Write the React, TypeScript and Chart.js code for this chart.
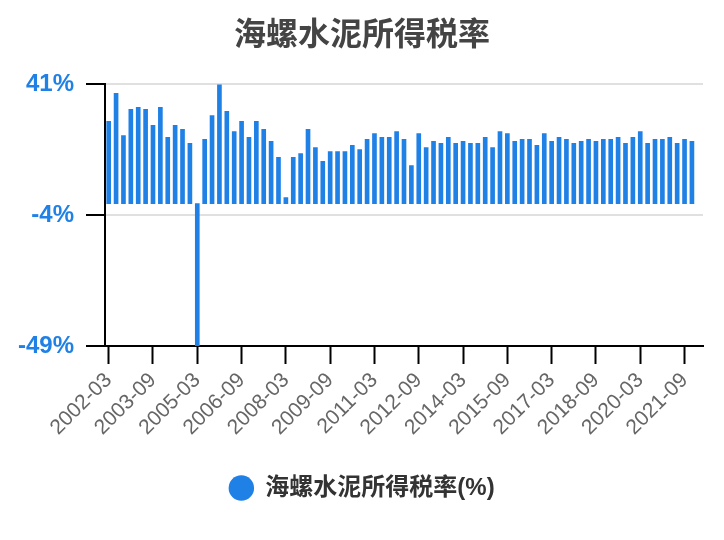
import React, { useEffect, useRef } from "react";
import { Chart, registerables } from "chart.js";

Chart.register(...registerables);

const TITLE = "海螺水泥所得税率";
const SERIES_NAME = "海螺水泥所得税率(%)";

const CATEGORIES = [
  "2002-03", "2002-06", "2002-09", "2002-12",
  "2003-03", "2003-06", "2003-09", "2003-12",
  "2004-03", "2004-06", "2004-09", "2004-12",
  "2005-03", "2005-06", "2005-09", "2005-12",
  "2006-03", "2006-06", "2006-09", "2006-12",
  "2007-03", "2007-06", "2007-09", "2007-12",
  "2008-03", "2008-06", "2008-09", "2008-12",
  "2009-03", "2009-06", "2009-09", "2009-12",
  "2010-03", "2010-06", "2010-09", "2010-12",
  "2011-03", "2011-06", "2011-09", "2011-12",
  "2012-03", "2012-06", "2012-09", "2012-12",
  "2013-03", "2013-06", "2013-09", "2013-12",
  "2014-03", "2014-06", "2014-09", "2014-12",
  "2015-03", "2015-06", "2015-09", "2015-12",
  "2016-03", "2016-06", "2016-09", "2016-12",
  "2017-03", "2017-06", "2017-09", "2017-12",
  "2018-03", "2018-06", "2018-09", "2018-12",
  "2019-03", "2019-06", "2019-09", "2019-12",
  "2020-03", "2020-06", "2020-09", "2020-12",
  "2021-03", "2021-06", "2021-09", "2021-12",
  "2022-03",
];

const TAX_RATE: (number | null)[] = [
  28.3, 37.9, 23.4, 32.4,
  33.1, 32.4, 26.9, 33.1,
  22.8, 26.9, 25.5, 20.7,
  -49, 22.1, 30.3, 41,
  31.7, 24.8, 28.3, 22.8,
  28.3, 25.5, 21.4, 15.9,
  2.1, 15.9, 17.2, 25.5,
  19.3, 14.5, 17.9, 17.9,
  17.9, 20.0, 18.6, 22.1,
  24.1, 22.8, 22.8, 24.8,
  22.1, 13.1, 24.1, 19.3,
  21.4, 20.7, 22.8, 20.7,
  21.4, 20.7, 20.7, 22.8,
  19.3, 24.8, 24.1, 21.4,
  22.1, 22.1, 20.0, 24.1,
  21.4, 22.8, 22.1, 20.7,
  21.4, 22.1, 21.4, 22.1,
  22.1, 22.8, 20.7, 22.8,
  24.8, 20.7, 22.1, 22.1,
  22.8, 20.7, 22.1, 21.4,
  null,
];

const Y_TICKS = [-49, -4, 41];
const Y_MIN = -49;
const Y_MAX = 41;
const X_LABEL_STEP = 6;

const BLUE = "#1f80e6";
const FONT = "'Liberation Sans', Arial, 'Noto Sans CJK SC', sans-serif";

export default function App() {
  const ref = useRef<HTMLCanvasElement>(null);

  useEffect(() => {
    if (!ref.current) return;
    Chart.defaults.font.family = FONT;
    const chart = new Chart(ref.current, {
      type: "bar",
      data: {
        labels: CATEGORIES,
        datasets: [
          {
            label: SERIES_NAME,
            data: TAX_RATE,
            backgroundColor: BLUE,
            borderWidth: 0,
            barThickness: 4,
          },
        ],
      },
      options: {
        animation: false,
        responsive: false,
        layout: { padding: { left: 0, right: 0, top: 0, bottom: 30 } },
        plugins: {
          title: {
            display: true,
            text: TITLE,
            color: "#444",
            font: { size: 32, weight: "bold" },
            padding: { top: 17, bottom: 29 },
          },
          legend: {
            position: "bottom",
            labels: {
              usePointStyle: true,
              pointStyle: "circle",
              boxWidth: 24,
              boxHeight: 18,
              padding: 10,
              color: "#333",
              font: { size: 24, weight: "bold" },
            },
          },
          tooltip: { enabled: false },
        },
        scales: {
          x: {
            offset: true,
            grid: {
              display: true,
              drawOnChartArea: false,
              drawTicks: true,
              tickLength: 18,
              tickColor: "#000",
              tickWidth: 2,
              offset: false,
            },
            border: { display: true, color: "#000", width: 2 },
            ticks: {
              autoSkip: false,
              maxRotation: 45,
              minRotation: 45,
              color: "#666",
              font: { size: 21 },
              padding: 4,
            },
            afterBuildTicks: (s: any) => {
              s.ticks = s.ticks.filter((t: any) => t.value % X_LABEL_STEP === 0);
            },
            afterFit: (s: any) => {
              s.height = 120;
            },
          },
          y: {
            min: Y_MIN,
            max: Y_MAX,
            grid: {
              color: "#e0e0e0",
              lineWidth: 2,
              tickLength: 19,
              tickColor: "#000",
              tickWidth: 2,
            },
            border: { display: true, color: "#000", width: 2 },
            ticks: {
              color: BLUE,
              font: { size: 24, weight: "bold" },
              padding: 12,
              callback: (v: any) => v + "%",
            },
            afterBuildTicks: (s: any) => {
              s.ticks = Y_TICKS.map((v) => ({ value: v }));
            },
            afterFit: (s: any) => {
              s.width = 105;
            },
          },
          yRightSpace: {
            position: "right",
            display: true,
            grid: { display: false, drawTicks: false },
            border: { display: false },
            ticks: { display: false },
            afterFit: (s: any) => {
              s.width = 21;
            },
          },
        },
      } as any,
    });
    return () => chart.destroy();
  }, []);

  return (
    <div style={{ position: "fixed", left: 0, top: 0, width: 724, height: 540, background: "#fff" }}>
      <canvas ref={ref} width={724} height={540} style={{ width: 724, height: 540, display: "block" }} />
    </div>
  );
}
